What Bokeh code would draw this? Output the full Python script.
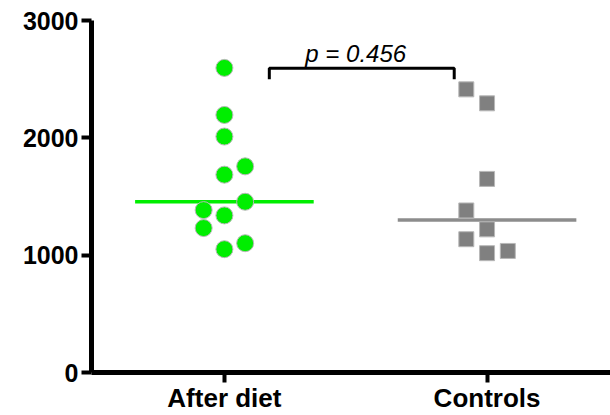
import numpy as np
from bokeh.plotting import figure
from bokeh.models import FixedTicker, Range1d
from bokeh.core.properties import value
from bokeh.embed import file_html
from bokeh.resources import INLINE

categories = ["After diet", "Controls"]
after_diet = [2596, 2195, 2011, 1757, 1686, 1455, 1384, 1339, 1231, 1102, 1051]
after_col = [0, 0, 0, 1, 0, 1, -1, 0, -1, 1, 0]
controls = [2413, 2294, 1650, 1381, 1220, 1136, 1017, 1036]
ctrl_col = [-1, 0, 0, -1, 0, -1, 0, 1]
y_ticks = [0, 1000, 2000, 3000]
p_label = "p = 0.456"
bracket_y = [2500, 2593]

JIT = 0.079
HALF = 0.34

p = figure(width=610, height=415, output_backend="svg", toolbar_location=None,
           x_range=Range1d(0.494, 2.47), y_range=Range1d(0, 3000),
           min_border_left=91, min_border_right=0, min_border_top=20, min_border_bottom=40)
p.grid.visible = False
p.outline_line_color = None

xa = [1 + c * JIT for c in after_col]
xc = [2 + c * JIT for c in ctrl_col]
ma = float(np.median(after_diet))
mc = float(np.median(controls))

p.line([1 - HALF, 1 + HALF], [ma, ma], line_color="#00EE00", line_width=3.5)
p.line([2 - HALF, 2 + HALF], [mc, mc], line_color="#8C8C8C", line_width=3.5)

p.scatter(xa, after_diet, marker="circle", size=17, fill_color="#00EE00",
          line_color="#B8B8B8", line_width=1)
p.scatter(xc, controls, marker="square", size=15, fill_color="#808080",
          line_color="#B8B8B8", line_width=1)

p.line([1.171, 1.171, 1.875, 1.875], [bracket_y[0], bracket_y[1], bracket_y[1], bracket_y[0]],
       line_color="black", line_width=3)
p.text([1.5], [2720], text=[p_label], text_font=value("Liberation Sans"),
       text_font_style="italic", text_font_size="24px", text_align="center",
       text_baseline="alphabetic", text_color="black")

for ax in (p.xaxis[0], p.yaxis[0]):
    ax.axis_line_width = 5
    ax.axis_line_color = "black"
    ax.major_tick_line_width = 4
    ax.major_tick_out = 10
    ax.major_tick_in = 0
    ax.minor_tick_line_color = None
    ax.major_label_text_font = "Liberation Sans"
    ax.major_label_text_font_style = "bold"
    ax.major_label_text_color = "black"
    ax.major_label_standoff = 3

p.yaxis.ticker = FixedTicker(ticks=y_ticks)
p.yaxis.major_label_text_font_size = "25px"
p.xaxis.ticker = FixedTicker(ticks=[1, 2])
p.xaxis.major_label_overrides = {i + 1: c for i, c in enumerate(categories)}
p.xaxis.major_label_text_font_size = "26px"
p.xaxis.major_label_standoff = 0

open("out.html", "w").write(file_html(p, INLINE))
